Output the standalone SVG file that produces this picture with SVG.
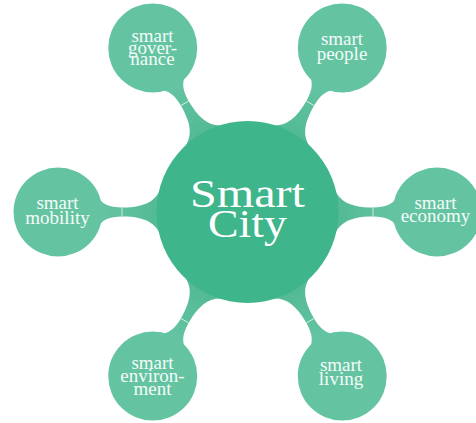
<svg xmlns="http://www.w3.org/2000/svg" width="476" height="423" viewBox="0 0 476 423">
<style>
.child{fill:#64c4a2}
.center{fill:#3eb58a}
.bar{fill:url(#barGrad)}
.tick{stroke:#ffffff;stroke-width:0.8;stroke-opacity:0.85}
.ct{font-family:"Liberation Serif","DejaVu Serif",serif;font-size:19px;fill:#f4fbf8;text-anchor:middle}
.big{font-family:"Liberation Serif","DejaVu Serif",serif;font-size:41px;fill:#ffffff;text-anchor:middle}
</style>
<defs>
<linearGradient id="barGrad" gradientUnits="userSpaceOnUse" x1="88" y1="0" x2="150" y2="0">
<stop offset="0" stop-color="#52ba93"/>
<stop offset="1" stop-color="#66c4a3"/>
</linearGradient>
<path id="conn" d="M80,-40 L84,-33 C88,-12 100,-4.5 125.5,-4.5 C138,-4.5 146,-8 150,-16 L160,0 L150,16 C146,8 138,4.5 125.5,4.5 C100,4.5 88,12 84,33 L80,40 Z"/>
</defs>
<rect width="476" height="423" fill="#ffffff"/>
<g id="connectors">
<g transform="translate(247.5,212) rotate(0)"><use href="#conn" class="bar"/><line class="tick" x1="125.5" y1="-4.5" x2="125.5" y2="4.5"/></g>
<g transform="translate(247.5,212) rotate(-60)"><use href="#conn" class="bar"/><line class="tick" x1="125.5" y1="-4.5" x2="125.5" y2="4.5"/></g>
<g transform="translate(247.5,212) rotate(-120)"><use href="#conn" class="bar"/><line class="tick" x1="125.5" y1="-4.5" x2="125.5" y2="4.5"/></g>
<g transform="translate(247.5,212) rotate(180)"><use href="#conn" class="bar"/><line class="tick" x1="125.5" y1="-4.5" x2="125.5" y2="4.5"/></g>
<g transform="translate(247.5,212) rotate(120)"><use href="#conn" class="bar"/><line class="tick" x1="125.5" y1="-4.5" x2="125.5" y2="4.5"/></g>
<g transform="translate(247.5,212) rotate(60)"><use href="#conn" class="bar"/><line class="tick" x1="125.5" y1="-4.5" x2="125.5" y2="4.5"/></g>
</g>
<g id="smart-city">
<circle class="center" cx="247.5" cy="212" r="91"/>
<text class="big" x="247.5" y="206.7" textLength="115" lengthAdjust="spacingAndGlyphs">Smart</text>
<text class="big" x="247.5" y="236.7" textLength="79" lengthAdjust="spacingAndGlyphs">City</text>
</g>
<g id="smart-governance">
<circle class="child" cx="152.75" cy="47.9" r="44.5"/>
<text class="ct" x="152.5" y="42">smart</text>
<text class="ct" x="152.5" y="53.5">gover-</text>
<text class="ct" x="152.5" y="65">nance</text>
</g>
<g id="smart-people">
<circle class="child" cx="342.25" cy="47.9" r="44.5"/>
<text class="ct" x="342" y="45">smart</text>
<text class="ct" x="342" y="60">people</text>
</g>
<g id="smart-mobility">
<circle class="child" cx="58" cy="212" r="44.5"/>
<text class="ct" x="57.5" y="209">smart</text>
<text class="ct" x="57.5" y="223.5">mobility</text>
</g>
<g id="smart-economy">
<circle class="child" cx="437" cy="212" r="44.5"/>
<text class="ct" x="435.5" y="209">smart</text>
<text class="ct" x="435.5" y="222">economy</text>
</g>
<g id="smart-environment">
<circle class="child" cx="152.75" cy="376.1" r="44.5"/>
<text class="ct" x="152.5" y="368.5">smart</text>
<text class="ct" x="152.5" y="382">environ-</text>
<text class="ct" x="152.5" y="394.5">ment</text>
</g>
<g id="smart-living">
<circle class="child" cx="342.25" cy="376.1" r="44.5"/>
<text class="ct" x="341" y="370.7">smart</text>
<text class="ct" x="341" y="385">living</text>
</g>
</svg>
